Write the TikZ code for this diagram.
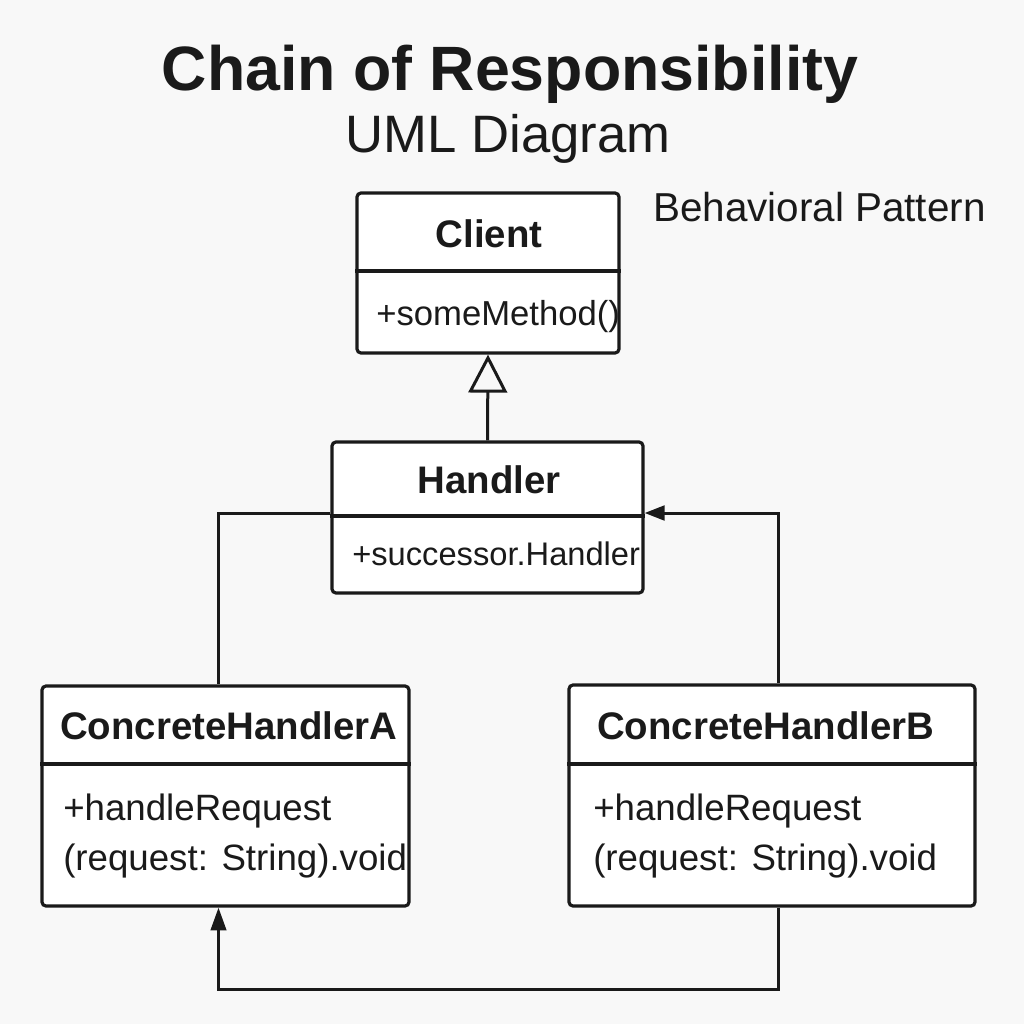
\documentclass[tikz,border=0pt]{standalone}
\usepackage{fontspec}
\setmainfont{Liberation Sans}
\usetikzlibrary{arrows.meta,calc}
\definecolor{ink}{HTML}{1A1A1A}
\definecolor{bg}{HTML}{F8F8F8}
\begin{document}
\begin{tikzpicture}[x=0.75pt,y=-0.75pt,
  classbox/.style={draw=ink, line width=2.4pt, rounded corners=3pt, fill=white, inner sep=0pt},
  divider/.style={draw=ink, line width=2.4pt},
  conn/.style={draw=ink, line width=2.25pt},
  txt/.style={inner sep=0pt, text=ink},
  ttl/.style={txt, font=\bfseries\fontsize{28.8}{32}\selectfont},
  member/.style={txt, anchor=base west},
]
% background / page
\fill[bg] (0,0) rectangle (1024,1024);
\useasboundingbox (0,0) rectangle (1024,1024);

% titles
\node[txt, anchor=base, font=\bfseries\fontsize{47}{52}\selectfont] (title) at (510,90) {Chain of Responsibility};
\node[txt, anchor=base, font=\fontsize{39.5}{44}\selectfont] (subtitle) at (508,152) {UML Diagram};
\node[txt, anchor=base west, font=\fontsize{30.3}{34}\selectfont] (kind) at (653,221) {Behavioral Pattern};

% class boxes
\node[classbox, minimum width=196.5pt, minimum height=120pt] (client) at (488,273) {};
\node[classbox, minimum width=233.25pt, minimum height=113.25pt] (handler) at (487.5,517.5) {};
\node[classbox, minimum width=275.25pt, minimum height=165pt] (cha) at (225.5,796) {};
\node[classbox, minimum width=304.5pt, minimum height=165.75pt] (chb) at (772,795.5) {};

% dividers
\draw[divider] (client.west |- 0,271) -- (client.east |- 0,271);
\draw[divider] (handler.west |- 0,516) -- (handler.east |- 0,516);
\draw[divider] (cha.west |- 0,764) -- (cha.east |- 0,764);
\draw[divider] (chb.west |- 0,764) -- (chb.east |- 0,764);

% class texts
\node[ttl, anchor=base] (clientname) at (489,247) {Client};
\node[member, font=\fontsize{26}{30}\selectfont] (clientop) at (376,325) {+someMethod()};
\node[ttl, anchor=base] (handlername) at (489,493) {Handler};
\node[member, font=\fontsize{24.5}{28}\selectfont] (handlerattr) at (352,565) {+successor.Handler};
\node[ttl, anchor=base west] (chaname) at (60,739) {ConcreteHandlerA};
\node[member, font=\fontsize{27.5}{31}\selectfont] (chaop1) at (63,820) {+handleRequest};
\node[member, font=\fontsize{27.5}{31}\selectfont] (chaop2) at (63,870) {(request: String).void};
\node[ttl, anchor=base west] (chbname) at (597,739) {ConcreteHandlerB};
\node[member, font=\fontsize{27.5}{31}\selectfont] (chbop1) at (593,820) {+handleRequest};
\node[member, font=\fontsize{27.5}{31}\selectfont] (chbop2) at (593,870) {(request: String).void};

% connectors
\draw[conn, -{Triangle[open, length=28.5pt, width=29pt, line width=2.25pt]}] (handler.north) -- (client.south);
\draw[conn] (handler.west |- 0,513) -| ($(cha.north)+(-7.5,0)$);
\draw[conn, -{Triangle[length=15pt, width=11pt]}] ($(chb.north)+(6,0)$) |- (handler.east |- 0,513);
\draw[conn, -{Triangle[length=17pt, width=11.5pt]}] ($(chb.south)+(6,0)$) -- ++(0,82) -| ($(cha.south)+(-7,0)$);
\end{tikzpicture}
\end{document}
